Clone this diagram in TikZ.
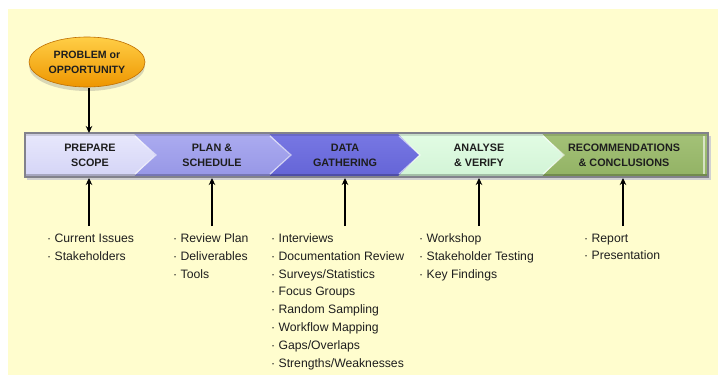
\documentclass[tikz,border=0pt]{standalone}
\usepackage{fontspec}
\setmainfont{Liberation Sans}
\usetikzlibrary{arrows.meta,shapes.geometric,shadows,calc}
\definecolor{bgyel}{RGB}{255,253,206}
\definecolor{orgA}{RGB}{255,206,70}
\definecolor{orgB}{RGB}{238,150,0}
\definecolor{orgE}{RGB}{190,110,0}
\definecolor{pA}{RGB}{232,232,252}
\definecolor{pB}{RGB}{212,212,246}
\definecolor{qA}{RGB}{172,172,240}
\definecolor{qB}{RGB}{150,150,230}
\definecolor{rA}{RGB}{120,120,228}
\definecolor{rB}{RGB}{100,100,214}
\definecolor{sA}{RGB}{226,252,228}
\definecolor{sB}{RGB}{210,244,214}
\definecolor{tA}{RGB}{164,194,120}
\definecolor{tB}{RGB}{146,178,100}
\definecolor{edge}{RGB}{130,130,140}
\definecolor{txt}{RGB}{30,30,30}
\tikzset{
  seg/.style={line width=0.6pt},
  stagetext/.style={font=\fontsize{10.8}{15}\selectfont\bfseries, text=txt, align=center, inner sep=0pt},
  listtext/.style={font=\fontsize{12.2}{17.8}\selectfont, text=txt, align=left, inner sep=0pt, anchor=north west},
  conn/.style={line width=1.6pt, -{Stealth[length=7pt,width=6.5pt]}},
  hilite/.style={white, opacity=0.6, line width=1.2pt},
}
\begin{document}
\begin{tikzpicture}[x=1pt,y=-1pt]
\useasboundingbox (0,0) rectangle (718,378);
\fill[white] (0,0) rectangle (718,378);
\fill[bgyel] (8,9) rectangle (718,375);
% banner shadow
\fill[black!18] (27,136) rectangle (711,180);
% segments
\path[seg, top color=tA, bottom color=tB] (541,133) -- (708,133) -- (708,177) -- (541,177) -- (563,155) -- cycle;
\path[seg, top color=sA, bottom color=sB] (397,133) -- (541,133) -- (563,155) -- (541,177) -- (397,177) -- (419,155) -- cycle;
\path[seg, top color=rA, bottom color=rB] (268,133) -- (397,133) -- (419,155) -- (397,177) -- (268,177) -- (290,155) -- cycle;
\path[seg, top color=qA, bottom color=qB] (133,133) -- (268,133) -- (290,155) -- (268,177) -- (133,177) -- (155,155) -- cycle;
\path[seg, top color=pA, bottom color=pB] (25,133) -- (133,133) -- (155,155) -- (133,177) -- (25,177) -- cycle;
% bevel
\fill[black, opacity=0.12] (25,133) rectangle (708,136);
\fill[black, opacity=0.22] (25,173.5) rectangle (708,177);
\draw[hilite] (135,136) -- (156,155) -- (135,174);
\draw[hilite] (270,136) -- (291,155) -- (270,174);
\draw[hilite] (399,136) -- (420,155) -- (399,174);
\draw[hilite] (543,136) -- (564,155) -- (543,174);
\draw[hilite] (704,136) -- (704,174);
\draw[edge, line width=1.2pt] (25,133) rectangle (708,177);
% stage labels
\node[stagetext] (s1) at (90,155) {PREPARE\\SCOPE};
\node[stagetext] (s2) at (212,155) {PLAN \&\\SCHEDULE};
\node[stagetext] (s3) at (345,155) {DATA\\GATHERING};
\node[stagetext] (s4) at (479,155) {ANALYSE\\\& VERIFY};
\node[stagetext] (s5) at (624,155) {RECOMMENDATIONS\\\& CONCLUSIONS};
% problem ellipse
\node[ellipse, minimum width=116pt, minimum height=50pt, draw=orgE, line width=0.6pt,
      top color=orgA, bottom color=orgB, drop shadow={shadow xshift=0pt, shadow yshift=-4pt, opacity=0.3},
      font=\fontsize{10.6}{15}\selectfont\bfseries, text=txt, align=center, inner sep=0pt] (prob) at (87,62) {PROBLEM or\\OPPORTUNITY};
\coordinate (in1) at (89,133);
\draw[conn] (89,88) -- (in1);
% bottom coordinates
\coordinate (b1) at (89,178);
\coordinate (b2) at (212,178);
\coordinate (b3) at (345,178);
\coordinate (b4) at (479,178);
\coordinate (b5) at (623,178);
\coordinate (l1) at (89,226);
\coordinate (l2) at (212,226);
\coordinate (l3) at (345,226);
\coordinate (l4) at (479,226);
\coordinate (l5) at (623,226);
\foreach \i in {1,...,5} \draw[conn] (l\i) -- (b\i);
% lists
\node[listtext] (t1) at (47,233.5) {· Current Issues\\· Stakeholders};
\node[listtext] (t2) at (173,233.5) {· Review Plan\\· Deliverables\\· Tools};
\node[listtext] (t3) at (271,233.5) {· Interviews\\· Documentation Review\\· Surveys/Statistics\\· Focus Groups\\· Random Sampling\\· Workflow Mapping\\· Gaps/Overlaps\\· Strengths/Weaknesses};
\node[listtext] (t4) at (419,233.5) {· Workshop\\· Stakeholder Testing\\· Key Findings};
\node[listtext] (t5) at (584,233.5) {· Report\\· Presentation};
\end{tikzpicture}
\end{document}
